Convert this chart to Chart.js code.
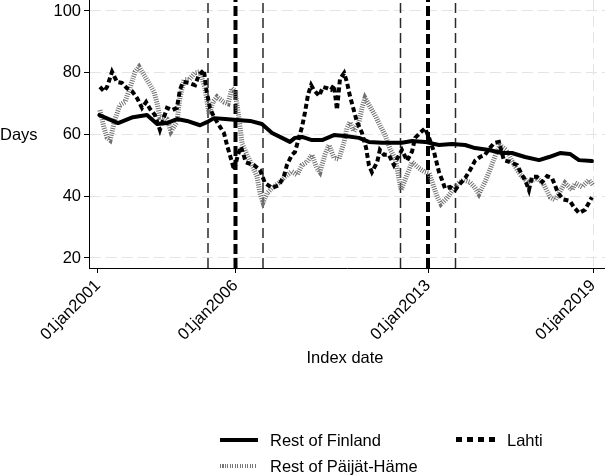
<!DOCTYPE html>
<html>
<head>
<meta charset="utf-8">
<script src="https://cdn.jsdelivr.net/npm/chart.js@4/dist/chart.umd.min.js"></script>
<style>
  html, body { margin: 0; padding: 0; background: #fff; }
  #wrap { position: relative; width: 605px; height: 475px; overflow: hidden; background: #fff;
          font-family: "Liberation Sans", Arial, sans-serif; color: #000; }
  #c { position: absolute; left: 0; top: 0; }
  .txt { position: absolute; font-size: 16.5px; line-height: 16px; white-space: nowrap; }
  .leg { font-size: 16.5px; line-height: 18px; }
  .sample { position: absolute; }
</style>
</head>
<body>
<div id="wrap">
  <canvas id="c" width="605" height="475"></canvas>
  <div class="txt" style="left:0px; top:126px;">Days</div>
  <div class="txt" style="left:245px; width:200px; text-align:center; top:349px;">Index date</div>

  <div class="sample" style="left:220px; top:438px; width:38px; height:4px; background:#000;"></div>
  <div class="txt leg" style="left:270px; top:431px;">Rest of Finland</div>

  <div class="sample" style="left:456px; top:437px; width:39px; height:5px;
       background: repeating-linear-gradient(90deg, #000 0px, #000 6px, transparent 6px, transparent 11px);"></div>
  <div class="txt leg" style="left:507px; top:431px;">Lahti</div>

  <div class="sample" style="left:220px; top:464px; width:37px; height:4px;
       background: repeating-linear-gradient(90deg, #777 0px, #777 1px, transparent 1px, transparent 2.5px);"></div>
  <div class="txt leg" style="left:270px; top:457px;">Rest of Päijät-Häme</div>
</div>
<script>
// ---- Data (x = decimal year, y = days) ----
const finlandDates = [2001.05,2001.73,2002.27,2002.78,2003.15,2003.51,2003.87,2004.24,2004.71,2004.96,
  2005.22,2005.62,2006.05,2006.53,2006.96,2007.33,2007.69,2007.98,2008.16,2008.42,2008.78,2009.15,
  2009.58,2009.98,2010.49,2010.85,2011.33,2011.80,2012.05,2012.42,2012.89,2013.40,2013.87,2014.35,
  2014.71,2015.22,2015.69,2016.05,2016.53,2017.04,2017.40,2017.80,2018.16,2018.49,2018.96];
const finlandValues = [66.3,63.7,65.6,66.3,63.4,63.7,65.0,64.4,63.0,64.0,
  65.3,65.0,64.7,64.4,63.4,60.5,58.9,57.6,58.9,59.2,58.2,58.2,
  59.8,59.5,58.9,57.6,57.3,57.3,57.3,57.9,57.6,56.6,56.9,56.6,
  55.6,55.0,54.0,54.0,52.7,51.7,52.7,54.0,53.7,51.7,51.4];

const lahtiDates = [2001.07,2001.22,2001.33,2001.51,2001.69,2001.87,2002.05,2002.24,2002.42,2002.60,
  2002.75,2002.89,2003.07,2003.25,2003.40,2003.51,2003.69,2003.87,2003.98,2004.09,2004.31,2004.53,
  2004.67,2004.85,2004.93,2005.07,2005.22,2005.40,2005.58,2005.69,2005.87,2005.95,2006.09,2006.20,
  2006.38,2006.53,2006.67,2006.89,2007.07,2007.33,2007.58,2007.76,2007.87,2008.05,2008.16,2008.42,
  2008.53,2008.64,2008.75,2008.85,2009.04,2009.18,2009.33,2009.47,2009.58,2009.69,2009.80,2009.95,
  2010.05,2010.16,2010.42,2010.60,2010.75,2010.85,2010.96,2011.15,2011.25,2011.40,2011.58,2011.76,
  2011.87,2012.05,2012.24,2012.42,2012.53,2012.71,2012.89,2013.04,2013.22,2013.40,2013.51,2013.62,
  2013.80,2013.98,2014.16,2014.35,2014.53,2014.71,2014.89,2015.07,2015.25,2015.40,2015.58,2015.76,
  2015.98,2016.24,2016.42,2016.53,2016.67,2016.78,2016.96,2017.15,2017.33,2017.51,2017.73,2017.91,
  2018.16,2018.31,2018.49,2018.71,2018.96];
const lahtiValues = [75.4,74.0,75.4,80.3,77.0,76.7,75.0,74.0,71.8,68.6,
  70.5,68.3,66.3,61.5,65.6,68.6,67.9,68.6,74.5,77.0,76.7,76.0,
  79.3,80.9,75.0,68.6,65.6,63.0,60.5,56.6,51.1,48.5,53.5,56.0,
  51.0,50.5,50.1,48.5,44.3,42.7,43.6,46.5,50.1,53.4,54.3,62.5,
  67.3,73.0,76.0,74.4,72.5,75.4,75.0,74.5,76.0,68.0,78.0,79.9,
  77.0,72.5,64.0,60.5,55.6,50.1,47.8,51.0,55.0,53.4,53.4,50.1,
  52.0,55.0,51.5,54.5,58.9,60.5,62.0,58.9,54.3,47.8,45.3,42.5,
  43.0,42.0,44.0,45.9,48.5,51.5,52.7,53.4,55.6,57.2,57.6,51.7,
  51.1,50.1,46.9,45.3,42.0,46.3,46.3,44.6,46.5,45.9,41.0,39.0,
  38.5,36.4,34.6,35.6,39.7];

const paijatDates = [2001.07,2001.22,2001.33,2001.44,2001.62,2001.80,2001.98,2002.16,2002.35,2002.49,
  2002.67,2002.85,2003.04,2003.15,2003.25,2003.40,2003.51,2003.65,2003.87,2003.98,2004.13,2004.31,
  2004.53,2004.71,2004.89,2005.04,2005.18,2005.33,2005.58,2005.73,2005.87,2005.98,2006.13,2006.24,
  2006.42,2006.60,2006.78,2006.89,2007.00,2007.15,2007.33,2007.58,2007.80,2008.05,2008.24,2008.42,
  2008.60,2008.78,2008.96,2009.07,2009.25,2009.40,2009.58,2009.76,2009.95,2010.05,2010.16,2010.31,
  2010.49,2010.60,2010.71,2010.89,2011.07,2011.25,2011.44,2011.62,2011.80,2011.91,2012.02,2012.24,
  2012.42,2012.67,2012.85,2013.04,2013.15,2013.33,2013.47,2013.69,2013.95,2014.13,2014.31,2014.53,
  2014.71,2014.85,2015.07,2015.25,2015.44,2015.62,2015.84,2016.05,2016.35,2016.64,2016.96,2017.18,
  2017.44,2017.62,2017.80,2017.98,2018.24,2018.35,2018.60,2018.85,2019.00];
const paijatValues = [67.9,62.1,59.0,58.2,65.0,69.6,70.5,75.0,80.3,81.9,
  79.3,76.7,73.8,70.0,65.6,65.6,65.0,61.0,64.0,72.0,77.7,77.7,
  80.0,80.3,75.0,66.5,70.5,72.2,70.5,70.0,75.0,74.0,65.0,57.0,
  53.4,50.1,46.5,41.0,38.0,41.0,42.7,44.3,46.3,48.0,46.9,50.1,
  51.1,53.4,49.1,47.8,53.4,56.6,52.5,52.0,57.6,62.0,64.0,61.0,
  64.0,68.6,71.8,69.0,66.3,63.0,59.8,55.3,52.4,47.5,42.0,47.0,
  51.1,49.1,48.0,47.5,44.6,40.0,37.5,39.4,42.7,44.3,45.3,44.5,
  42.7,40.7,44.6,48.5,53.0,56.5,55.0,51.5,47.0,44.5,45.8,44.3,
  39.7,38.8,41.5,44.3,42.0,44.3,43.0,45.3,43.5];

const thinLineYears = [2005, 2007, 2012, 2014];
const thickLineYears = [2006, 2013];
const xTickYears = [2001, 2006, 2013, 2019];
const yTickValues = [20, 40, 60, 80, 100];

const X_MIN = 2000.673, X_MAX = 2019.436;
const Y_MIN = 16.76, Y_MAX = 103.56;

const pts = (xs, ys) => xs.map((x, i) => ({x: x, y: ys[i]}));
const vline = (yr, thick) => ({
  label: 'vline', data: [{x: yr, y: Y_MIN}, {x: yr, y: Y_MAX}],
  borderColor: thick ? '#000' : '#2a2a2a', borderWidth: thick ? 4 : 1.5,
  borderDash: thick ? [10, 4] : [10, 5], pointRadius: 0, order: 10, clip: false
});

const datasets = [
  { label: 'Rest of Finland', data: pts(finlandDates, finlandValues), borderColor: '#000',
    borderWidth: 4, pointRadius: 0, order: 1, borderJoinStyle: 'round', borderCapStyle: 'round' },
  { label: 'Lahti', data: pts(lahtiDates, lahtiValues), borderColor: '#000',
    borderWidth: 4, borderDash: [5, 3], pointRadius: 0, order: 2 },
  { label: 'Rest of Päijät-Häme', data: pts(paijatDates, paijatValues), borderColor: '#707070',
    borderWidth: 5, borderDash: [1, 1.3], pointRadius: 0, order: 3 },
  ...thinLineYears.map(y => vline(y, false)),
  ...thickLineYears.map(y => vline(y, true))
];

new Chart(document.getElementById('c'), {
  type: 'line',
  data: { datasets },
  options: {
    responsive: false,
    animation: false,
    devicePixelRatio: 1,
    layout: { padding: 0 },
    plugins: { legend: { display: false }, tooltip: { enabled: false } },
    elements: { line: { tension: 0 } },
    scales: {
      x: {
        type: 'linear', min: X_MIN, max: X_MAX,
        afterBuildTicks: s => { s.ticks = xTickYears.map(v => ({value: v})); },
        afterFit: s => { s.height = 207; s.paddingLeft = 0; s.paddingRight = 0; },
        ticks: {
          autoSkip: false, minRotation: 45, maxRotation: 45, padding: 3,
          color: '#000', font: { family: '"Liberation Sans", Arial, sans-serif', size: 16.5 },
          callback: v => '01jan' + v
        },
        grid: {
          drawOnChartArea: true, drawTicks: true, tickLength: 5, tickColor: '#000',
          color: c => (c.tick && c.tick.value === 2019) ? '#e4e4e4' : 'rgba(0,0,0,0)'
        },
        border: { display: true, color: '#000', width: 1, dash: [11, 5] }
      },
      y: {
        type: 'linear', min: Y_MIN, max: Y_MAX,
        afterBuildTicks: s => { s.ticks = yTickValues.map(v => ({value: v})); },
        afterFit: s => { s.width = 89; s.paddingTop = 0; s.paddingBottom = 0; },
        ticks: {
          padding: 3, color: '#000',
          font: { family: '"Liberation Sans", Arial, sans-serif', size: 16.5 }
        },
        grid: { color: '#e4e4e4', tickColor: '#000', tickLength: 5, drawTicks: true },
        border: { display: true, color: '#000', width: 1, dash: [11, 5] }
      }
    }
  }
});
</script>
</body>
</html>
